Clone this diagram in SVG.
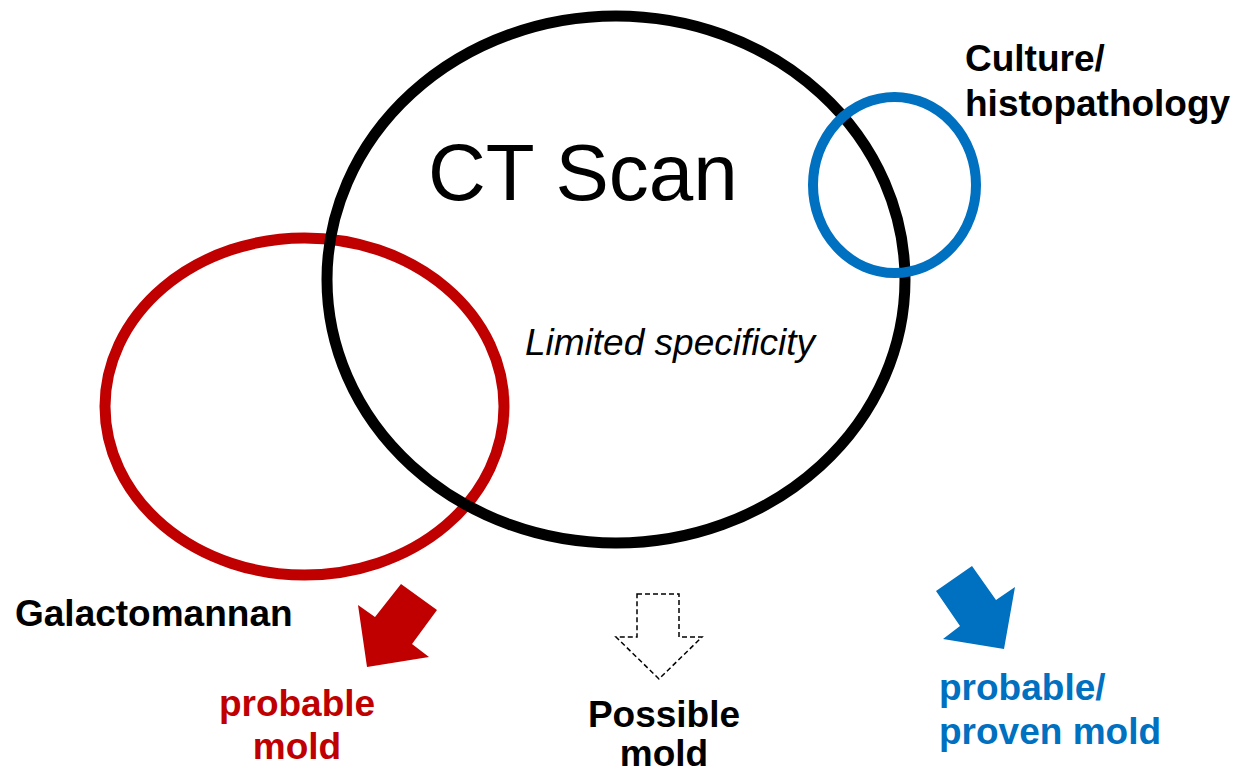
<svg xmlns="http://www.w3.org/2000/svg" width="1251" height="775" viewBox="0 0 1251 775">
<style>
.ring{fill:none}
.lbl{font-family:"Liberation Sans",Arial,sans-serif;font-weight:bold;font-size:37px}
</style>
<rect width="1251" height="775" fill="#fff"/>
<g id="galactomannan">
<ellipse class="ring" cx="304.5" cy="406.5" rx="199.5" ry="168.5" stroke="#C00000" stroke-width="11"/>
<text class="lbl" x="15" y="626" fill="#000">Galactomannan</text>
</g>
<g id="ct-scan">
<ellipse class="ring" cx="616" cy="279.5" rx="289" ry="263.5" stroke="#000" stroke-width="11"/>
<text x="428" y="200" font-family="'Liberation Sans',Arial,sans-serif" font-size="80" fill="#000">CT Scan</text>
<text x="525" y="355" font-family="'Liberation Sans',Arial,sans-serif" font-size="37" font-style="italic" fill="#000">Limited specificity</text>
</g>
<g id="culture">
<ellipse class="ring" cx="894.5" cy="185" rx="81.5" ry="88" stroke="#0070C0" stroke-width="10"/>
<text class="lbl" fill="#000"><tspan x="965" y="71">Culture/</tspan><tspan x="965" y="116">histopathology</tspan></text>
</g>
<g id="connectors">
<polygon points="401,584 437,610 412,644 429,657 367,667 358,605 375,617" fill="#C00000"/>
<polygon points="637,594 679,594 679,637 702,637 659,679 616,637 637,637" fill="#fff" stroke="#000" stroke-width="1.5" stroke-dasharray="5,3"/>
<polygon points="972,566 936,591 960,626 943,639 1004,649 1015,587 996,600" fill="#0070C0"/>
</g>
<g id="probable-mold">
<text class="lbl" fill="#C00000" text-anchor="middle"><tspan x="297" y="716">probable</tspan><tspan x="297" y="759">mold</tspan></text>
</g>
<g id="possible-mold">
<text class="lbl" fill="#000" text-anchor="middle"><tspan x="664" y="727">Possible</tspan><tspan x="664" y="766">mold</tspan></text>
</g>
<g id="proven-mold">
<text class="lbl" fill="#0070C0"><tspan x="939" y="700">probable/</tspan><tspan x="939" y="744">proven mold</tspan></text>
</g>
</svg>
